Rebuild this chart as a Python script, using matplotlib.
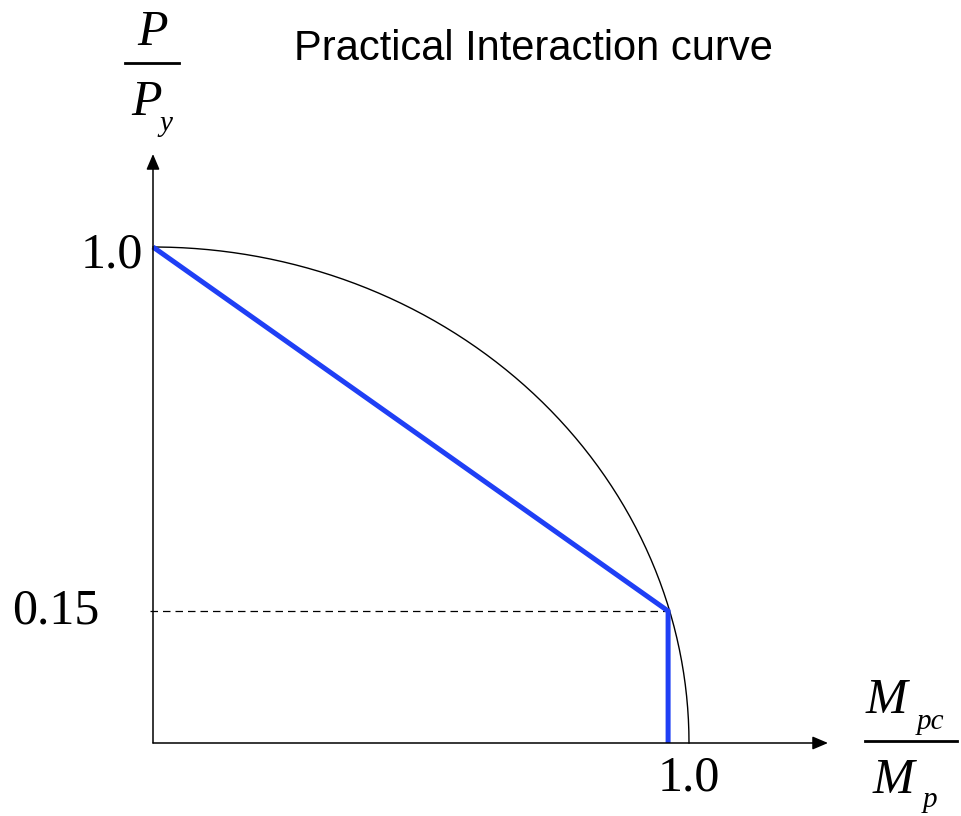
import numpy as np
import matplotlib
matplotlib.use("Agg")
import matplotlib.pyplot as plt

# schematic P-M interaction diagram values
full_t = np.linspace(0, np.pi / 2, 200)       # quarter curve parameter
prac_x = [0.0, 0.961, 0.961]                   # M_pc / M_p
prac_y = [1.0, 0.15, 0.0]                      # P / P_y
y_ticks = [1.0, 0.15]
y_tick_labels = ["1.0", "0.15"]
x_ticks = [1.0]
x_tick_labels = ["1.0"]

BLUE = "#1f3ff5"
SERIF = "Liberation Serif"

# y axis is stretched below 0.15 so the kink is easy to read
K1 = 0.266 / 0.15
K2 = 0.734 / 0.85


def fwd(y):
    y = np.asarray(y, dtype=float)
    return np.where(y < 0.15, y * K1, 0.266 + (y - 0.15) * K2)


def inv(u):
    u = np.asarray(u, dtype=float)
    return np.where(u < 0.266, u / K1, 0.15 + (u - 0.266) / K2)


W, H = 961, 816
fig = plt.figure(figsize=(W / 100, H / 100), dpi=100)
ax = fig.add_axes([153 / W, 1 - 743 / H, 675 / W, 589 / H])
ax.set_yscale("function", functions=(fwd, inv))
xmax = 675 / 536
ymax = float(inv(589 / 496))
ax.set_xlim(0, xmax)
ax.set_ylim(0, ymax)
for s in ax.spines.values():
    s.set_visible(False)
ax.set_xticks([])
ax.set_yticks([])
ax.minorticks_off()

# full plastic curve
ax.plot(np.cos(full_t), inv(np.sin(full_t)), color="black", lw=1.0, clip_on=False)

# practical curve
ax.plot(prac_x, prac_y, color=BLUE, lw=3.6, solid_joinstyle="miter",
        solid_capstyle="butt", clip_on=False, zorder=3)
ax.plot([-0.005, prac_x[1]], [prac_y[1], prac_y[1]], color="black", lw=0.9,
        linestyle=(0, (6, 4)), clip_on=False)

# axes with arrow heads
arrow = dict(arrowstyle="-|>,head_length=0.47,head_width=0.2", color="black",
             lw=1.1, shrinkA=0, shrinkB=0, mutation_scale=20)
ax.annotate("", xy=(xmax, 0), xytext=(0, 0), arrowprops=arrow, annotation_clip=False)
ax.annotate("", xy=(0, ymax), xytext=(0, 0), arrowprops=arrow, annotation_clip=False)

# tick labels
offsets = {"1.0": (-10, -8), "0.15": (-53, 0)}
for v, lab in zip(y_ticks, y_tick_labels):
    ax.annotate(lab, xy=(0, v), xytext=offsets[lab], textcoords="offset pixels",
                ha="right", va="center", fontsize=36, family=SERIF,
                annotation_clip=False)
for v, lab in zip(x_ticks, x_tick_labels):
    ax.annotate(lab, xy=(v, 0), xytext=(0, -12), textcoords="offset pixels",
                ha="center", va="top", fontsize=36, family=SERIF,
                annotation_clip=False)


def px(x, y):
    return x / W, 1 - y / H


def fig_line(x0, x1, y):
    fig.add_artist(plt.Line2D([x0 / W, x1 / W], [1 - y / H, 1 - y / H],
                              color="black", lw=2.0, transform=fig.transFigure))


ital = dict(family=SERIF, style="italic", ha="left", va="baseline")

# P / P_y
fig.text(*px(137, 45), "P", fontsize=36, **ital)
fig_line(125, 179, 63)
fig.text(*px(131, 115), "P", fontsize=36, **ital)
fig.text(*px(159, 131), "y", fontsize=21, **ital)

# M_pc / M_p
fig.text(*px(866, 713), "M", fontsize=36, **ital)
fig.text(*px(917, 729), "pc", fontsize=21, **ital)
fig_line(865, 957, 741)
fig.text(*px(873, 793), "M", fontsize=36, **ital)
fig.text(*px(923, 807), "p", fontsize=21, **ital)

fig.text(*px(294, 60), "Practical Interaction curve", fontsize=30,
         family="Liberation Sans", ha="left", va="baseline")

fig.savefig("out.png", dpi=100)
